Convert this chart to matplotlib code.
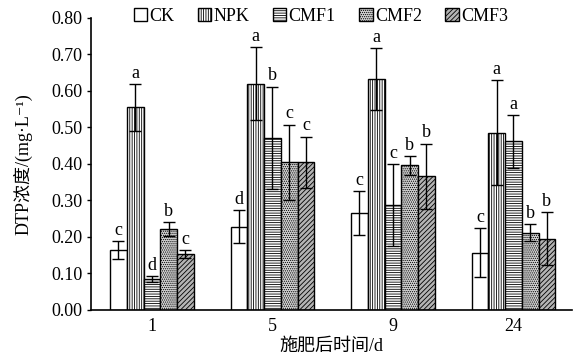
import matplotlib
matplotlib.use("Agg")
import matplotlib.pyplot as plt
import numpy as np

plt.rcParams["font.family"] = ["Liberation Serif", "DejaVu Serif", "Noto Sans CJK SC"]
plt.rcParams["hatch.linewidth"] = 0.6

days = ["1", "5", "9", "24"]
treatments = ["CK", "NPK", "CMF1", "CMF2", "CMF3"]

# DTP 浓度均值 (mg/L)
ck = [0.165, 0.228, 0.266, 0.157]
npk = [0.555, 0.620, 0.632, 0.486]
cmf1 = [0.085, 0.472, 0.288, 0.462]
cmf2 = [0.222, 0.405, 0.396, 0.212]
cmf3 = [0.153, 0.405, 0.366, 0.195]

# 标准差
ck_err = [0.024, 0.045, 0.060, 0.068]
npk_err = [0.065, 0.100, 0.085, 0.143]
cmf1_err = [0.008, 0.140, 0.112, 0.072]
cmf2_err = [0.018, 0.103, 0.025, 0.024]
cmf3_err = [0.010, 0.070, 0.090, 0.073]

# 显著性字母
ck_sig = ["c", "d", "c", "c"]
npk_sig = ["a", "a", "a", "a"]
cmf1_sig = ["d", "b", "c", "a"]
cmf2_sig = ["b", "c", "b", "b"]
cmf3_sig = ["c", "c", "b", "b"]

means = [ck, npk, cmf1, cmf2, cmf3]
errs = [ck_err, npk_err, cmf1_err, cmf2_err, cmf3_err]
sigs = [ck_sig, npk_sig, cmf1_sig, cmf2_sig, cmf3_sig]

styles = [
    dict(facecolor="white", hatch=None),
    dict(facecolor="white", hatch="|||||||"),
    dict(facecolor="white", hatch="-------"),
    dict(facecolor="#d4d4d4", hatch="........"),
    dict(facecolor="#b4b4b4", hatch="///////"),
]

fig = plt.figure(figsize=(5.73, 3.6), dpi=100)
ax = fig.add_axes([0.159, 0.139, 0.839, 0.811])

x = np.arange(len(days))
w = 0.139
for i, (m, e, s, st) in enumerate(zip(means, errs, sigs, styles)):
    pos = x + (i - 2) * w
    ax.bar(pos, m, width=w, edgecolor="black", linewidth=1.0,
           label=treatments[i], zorder=2, **st)
    ax.errorbar(pos, m, yerr=e, fmt="none", ecolor="black", elinewidth=1.0,
                capsize=4, capthick=1.0, zorder=3)
    for px, mv, ev, lab in zip(pos, m, e, s):
        ax.text(px, mv + ev + 0.006, lab, ha="center", va="bottom", fontsize=13)

ax.set_xlim(-0.505, 3.485)
ax.set_ylim(0, 0.8)
ax.set_yticks(np.arange(0, 0.81, 0.1))
ax.set_yticklabels([f"{v:.2f}" for v in np.arange(0, 0.81, 0.1)], fontsize=13)
ax.set_xticks(x)
ax.set_xticklabels(days, fontsize=13)
ax.tick_params(axis="x", length=0, pad=6)
ax.tick_params(axis="y", direction="out", length=3, width=1.0, pad=3)
for side in ["top", "right"]:
    ax.spines[side].set_visible(False)
for side in ["left", "bottom"]:
    ax.spines[side].set_linewidth(1.2)

ax.set_xlabel("施肥后时间/d", fontsize=13, labelpad=2)
ax.set_ylabel("DTP浓度/(mg·L⁻¹)", fontsize=13, labelpad=14)

ax.legend(loc="upper center", bbox_to_anchor=(0.478, 1.06), ncol=5, frameon=False,
          fontsize=13, handlelength=0.75, handleheight=0.75, handletextpad=0.12,
          columnspacing=1.3, borderaxespad=0)

fig.savefig("out.png", dpi=100)
